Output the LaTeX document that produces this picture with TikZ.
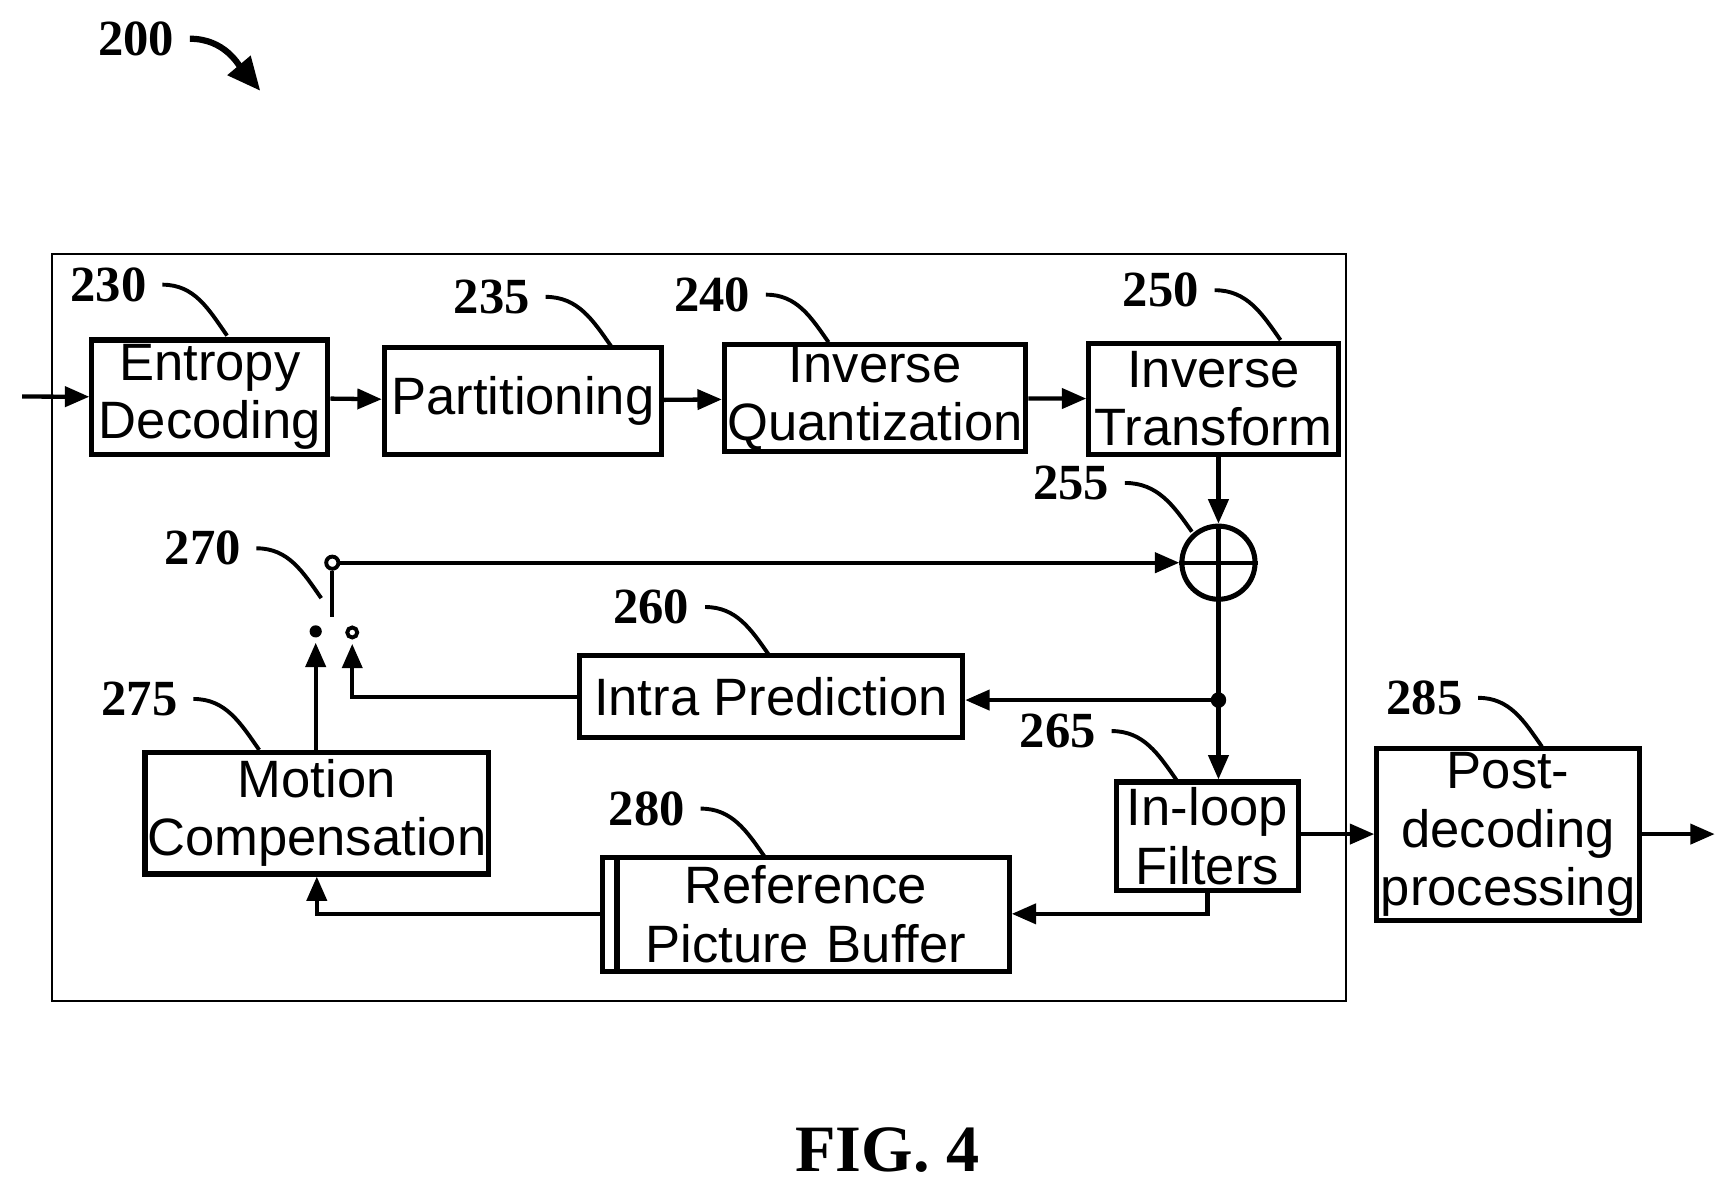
\documentclass[tikz,border=0pt]{standalone}
\usepackage{fontspec}
\setmainfont{Liberation Sans}
\newfontfamily\numfont{Liberation Serif}
\usetikzlibrary{arrows.meta, positioning}

\tikzset{
  blk/.style={draw, line width=1.3pt, align=center, inner sep=0pt, font=\fontsize{13.5}{15}\selectfont},
  num/.style={font=\numfont\bfseries\fontsize{13}{13}\selectfont, inner sep=1pt},
  lead/.style={line width=1pt},
  flow/.style={line width=1.1pt, -{Triangle[length=2.2mm,width=1.8mm]}},
}

\begin{document}
\begin{tikzpicture}[x=0.01cm, y=-0.01cm, >=Triangle]
    \useasboundingbox (0,0) rectangle (1560,1067);
    % frame
    \draw[line width=0.5pt] (47,229) rectangle (1215,904);

    % Blocks
    \node[blk, minimum width=2.13cm, minimum height=1.03cm] (entropy) at (189.5,358.5) {Entropy\\Decoding};
    \node[blk, minimum width=2.50cm, minimum height=0.96cm] (part) at (472,362) {Partitioning};
    \node[blk, minimum width=2.72cm, minimum height=0.97cm] (iquant) at (790,359.5) {Inverse\\Quantization};
    \node[blk, minimum width=2.25cm, minimum height=1.00cm] (itrans) at (1095.5,360) {Inverse\\Transform};
    \node[draw, circle, line width=1.3pt, minimum size=0.66cm, inner sep=0pt] (adder) at (1100,508) {};
    \draw[line width=1.1pt] (adder.north) -- (adder.south) (adder.west) -- (adder.east);
    \node[blk, minimum width=3.46cm, minimum height=0.74cm] (intra) at (696,629) {Intra Prediction};
    \node[blk, minimum width=3.10cm, minimum height=1.10cm] (motion) at (286,734) {Motion\\Compensation};
    \node[blk, minimum width=1.64cm, minimum height=0.98cm] (filt) at (1090,755) {In-loop\\Filters};
    \node[blk, minimum width=3.67cm, minimum height=1.03cm, text width=3.2cm, xshift=0.13cm] (refbuf) at (714.5,825.5) {Reference\\Picture Buffer};
    \draw[line width=1.3pt] (557,774) -- (557,877);
    \node[blk, minimum width=2.37cm, minimum height=1.55cm] (post) at (1361.5,753.5) {Post-\\decoding\\processing};

    % Switch
    \node[draw, circle, line width=1pt, minimum size=1.1mm, inner sep=0pt] (swtop) at (300,508) {};
    \node[fill, circle, minimum size=1.1mm, inner sep=0pt] (swmc) at (285,570) {};
    \node[draw, circle, line width=1pt, minimum size=0.9mm, inner sep=0pt] (swip) at (318,571) {};
    \draw[line width=1.1pt] (swtop.south) -- ++(0,42);

    % Connections
    \coordinate (in) at (20,358);
    \coordinate (out) at (1548,753);
    \coordinate (tap) at (1100,632);
    \draw[flow] (in) -- (entropy);
    \draw[flow] (entropy) -- (part);
    \draw[flow] (part) -- (iquant);
    \draw[flow] (iquant) -- (itrans);
    \draw[flow] (itrans.south -| adder) -- (adder.north);
    \draw[flow] (swtop.east) -- (adder.west);
    \draw[line width=1.1pt] (adder.south) -- (tap);
    \fill (tap) circle (0.07cm);
    \draw[flow] (tap) -- (tap -| intra.east);
    \draw[flow] (tap) -- (tap |- filt.north);
    \draw[flow] (intra.west) -| ([yshift=-0.04cm]swip.south);
    \draw[flow] (swmc |- motion.north) -- ([yshift=-0.04cm]swmc.south);
    \draw[flow] (filt.south) |- (refbuf.east |- 0,825);
    \draw[flow] (refbuf.west |- 0,825) -| (motion.south);
    \draw[flow] (filt.east |- out) -- (post.west |- out);
    \draw[flow] (post.east |- out) -- (out);

    % Reference numerals
    \foreach \n/\x/\y/\ex/\ey in {230/98/257/205/303, 235/444/268/552/313, 240/643/266/748/309,
        250/1048/262/1156/307, 255/967/436/1076/480, 270/183/495/290/540, 260/588/548/694/591,
        275/126/631/234/677, 265/955/660/1062/704, 280/584/730/690/773, 285/1286/630/1392/674} {
      \node[num] (lbl\n) at (\x,\y) {\n};
      \coordinate (tip\n) at (\ex,\ey);
      \draw[lead] ([xshift=0.1cm]lbl\n.east) -- ++(0.15,0) to[out=0, in=125] (tip\n);
    }
    \node[num] (lbl200) at (123,35) {200};
    \coordinate (tip200) at (235,82);
    \draw[line width=1.6pt, -{Triangle[length=3mm,width=2.6mm]}] ([xshift=0.1cm]lbl200.east) -- ++(0.12,0) to[out=0, in=130] (tip200);

    \node[font=\numfont\bfseries\fontsize{17}{17}\selectfont] (fig) at (801,1038) {FIG. 4};
\end{tikzpicture}
\end{document}
